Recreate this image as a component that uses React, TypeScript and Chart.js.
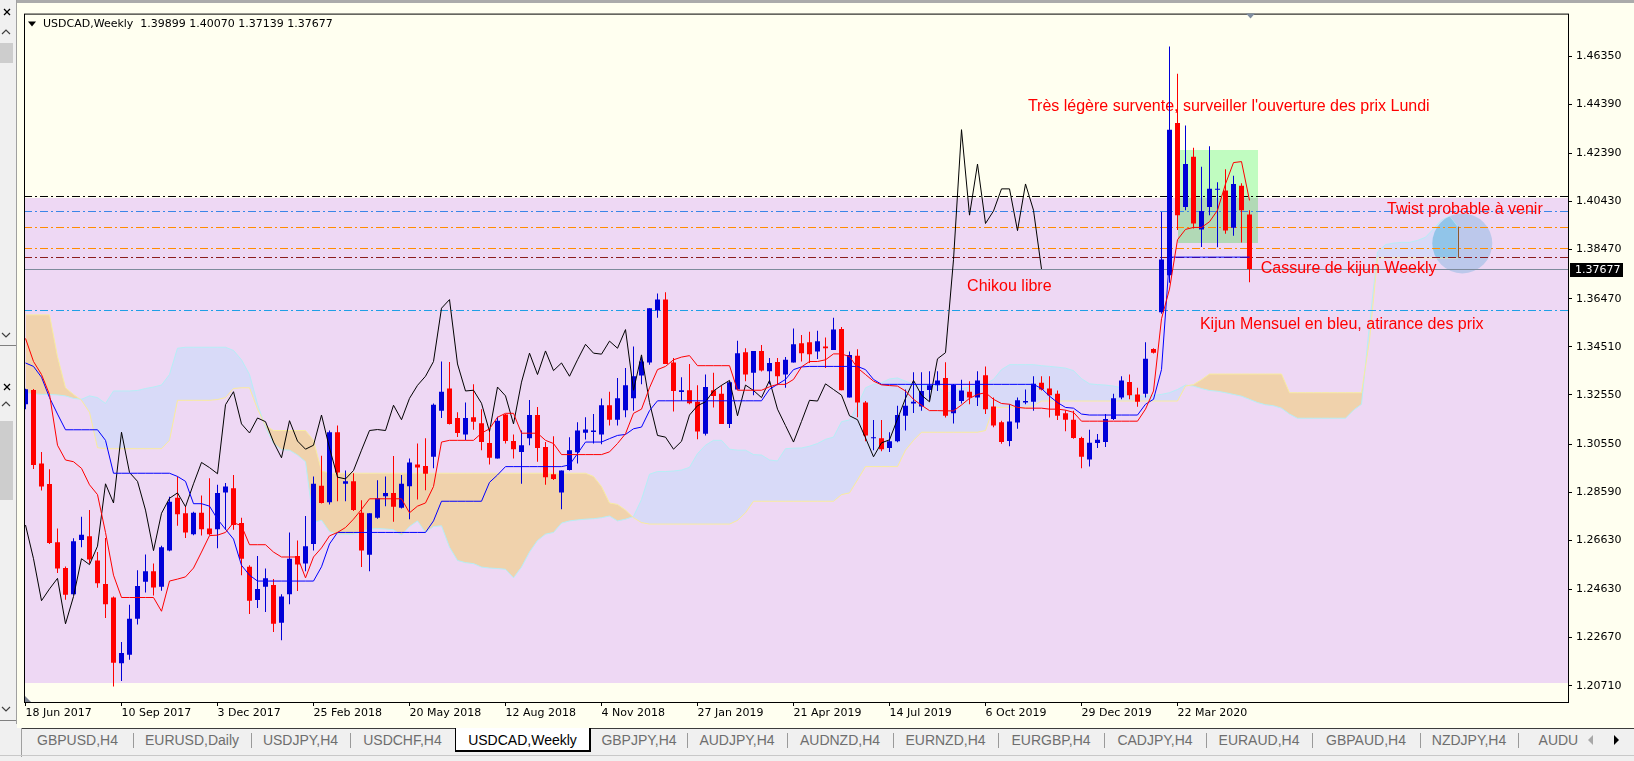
import React, { useEffect, useRef } from 'react';
import { Chart, registerables } from 'chart.js';

Chart.register(...registerables);

// ---- weekly USDCAD, 18 Jun 2017 .. 24 May 2020 (154 bars) ----
const dateLabels = [
  '18 Jun 2017', '10 Sep 2017', '3 Dec 2017', '25 Feb 2018', '20 May 2018', '12 Aug 2018', '4 Nov 2018',
  '27 Jan 2019', '21 Apr 2019', '14 Jul 2019', '6 Oct 2019', '29 Dec 2019', '22 Mar 2020',
];
const dateTickIndex = [0, 12, 24, 36, 48, 60, 72, 84, 96, 108, 120, 132, 144];
const priceTicks = [1.4635, 1.4439, 1.4239, 1.4043, 1.3847, 1.3647, 1.3451, 1.3255, 1.3055, 1.2859, 1.2663, 1.2463, 1.2267, 1.2071];

const opens = [
  1.3217, 1.3275, 1.2976, 1.2892, 1.2655, 1.2550, 1.2443, 1.2664, 1.2679, 1.2581,
  1.2485, 1.2430, 1.2162, 1.2197, 1.2343, 1.2494, 1.2537, 1.2474, 1.2621, 1.2836,
  1.2773, 1.2688, 1.2775, 1.2711, 1.2708, 1.2858, 1.2875, 1.2733, 1.2555, 1.2420,
  1.2474, 1.2481, 1.2327, 1.2443, 1.2599, 1.2568, 1.2648, 1.2885, 1.2818, 1.3103,
  1.2893, 1.2903, 1.2775, 1.2604, 1.2755, 1.2842, 1.2856, 1.2796, 1.2883, 1.2972,
  1.2966, 1.3003, 1.3190, 1.3281, 1.3161, 1.3094, 1.3164, 1.3140, 1.3059, 1.2996,
  1.3175, 1.3067, 1.3023, 1.3079, 1.3173, 1.3043, 1.2932, 1.2858, 1.2949, 1.3021,
  1.3101, 1.3104, 1.3094, 1.3213, 1.3154, 1.3193, 1.3241, 1.3334, 1.3387, 1.3599,
  1.3643, 1.3387, 1.3267, 1.3274, 1.3227, 1.3097, 1.3274, 1.3260, 1.3137, 1.3277,
  1.3429, 1.3345, 1.3434, 1.3351, 1.3389, 1.3338, 1.3387, 1.3465, 1.3469, 1.3432,
  1.3452, 1.3438, 1.3523, 1.3244, 1.3414, 1.3224, 1.3079, 1.3079, 1.3039, 1.3066,
  1.3170, 1.3220, 1.3208, 1.3275, 1.3294, 1.3324, 1.3180, 1.3230, 1.3268, 1.3244,
  1.3335, 1.3208, 1.3144, 1.3067, 1.3143, 1.3224, 1.3227, 1.3304, 1.3281, 1.3260,
  1.3180, 1.3154, 1.3080, 1.2992, 1.3059, 1.3063, 1.3157, 1.3244, 1.3308, 1.3257,
  1.3260, 1.3442, 1.3592, 1.3742, 1.4362, 1.4020, 1.4225, 1.3929, 1.4020, 1.4090,
  1.4087, 1.3936, 1.4107, 1.39899,
];
const highs = [
  1.3280, 1.3279, 1.3023, 1.2952, 1.2711, 1.2556, 1.2671, 1.2759, 1.2786, 1.2615,
  1.2672, 1.2434, 1.2249, 1.2400, 1.2541, 1.2605, 1.2568, 1.2641, 1.2840, 1.2923,
  1.2802, 1.2779, 1.2845, 1.2916, 1.2889, 1.2896, 1.2929, 1.2755, 1.2561, 1.2599,
  1.2548, 1.2505, 1.2443, 1.2695, 1.2662, 1.2762, 1.2923, 1.3007, 1.3110, 1.3130,
  1.2947, 1.2936, 1.2826, 1.2773, 1.2907, 1.2923, 1.3006, 1.2929, 1.2996, 1.3057,
  1.3079, 1.3220, 1.3391, 1.3389, 1.3184, 1.3224, 1.3298, 1.3197, 1.3117, 1.3166,
  1.3177, 1.3094, 1.3110, 1.3234, 1.3206, 1.3063, 1.3087, 1.2947, 1.3083, 1.3144,
  1.3164, 1.3177, 1.3240, 1.3268, 1.3324, 1.3365, 1.3452, 1.3409, 1.3608, 1.3668,
  1.3673, 1.3405, 1.3327, 1.3381, 1.3294, 1.3338, 1.3345, 1.3294, 1.3311, 1.3476,
  1.3445, 1.3434, 1.3458, 1.3405, 1.3405, 1.3409, 1.3525, 1.3499, 1.3512, 1.3516,
  1.3489, 1.3569, 1.3532, 1.3432, 1.3441, 1.3230, 1.3153, 1.3153, 1.3103, 1.3211,
  1.3277, 1.3347, 1.3347, 1.3351, 1.3351, 1.3388, 1.3299, 1.3317, 1.3311, 1.3351,
  1.3371, 1.3244, 1.3150, 1.3217, 1.3244, 1.3277, 1.3331, 1.3331, 1.3331, 1.3273,
  1.3193, 1.3190, 1.3085, 1.3113, 1.3096, 1.3177, 1.3260, 1.3331, 1.3338, 1.3284,
  1.3469, 1.3445, 1.4000, 1.4674, 1.4563, 1.4352, 1.4261, 1.4184, 1.4268, 1.4121,
  1.4174, 1.4147, 1.4117, 1.40070,
];
const lows = [
  1.3197, 1.2953, 1.2866, 1.2648, 1.2530, 1.2421, 1.2441, 1.2635, 1.2568, 1.2470,
  1.2347, 1.2068, 1.2090, 1.2177, 1.2320, 1.2450, 1.2438, 1.2458, 1.2618, 1.2722,
  1.2672, 1.2684, 1.2682, 1.2684, 1.2631, 1.2706, 1.2706, 1.2521, 1.2363, 1.2387,
  1.2371, 1.2290, 1.2256, 1.2403, 1.2457, 1.2537, 1.2621, 1.2813, 1.2809, 1.2822,
  1.2822, 1.2782, 1.2554, 1.2537, 1.2751, 1.2802, 1.2738, 1.2792, 1.2749, 1.2829,
  1.2867, 1.2956, 1.3161, 1.3134, 1.3084, 1.3070, 1.3113, 1.3030, 1.2972, 1.2996,
  1.3057, 1.2996, 1.2893, 1.3050, 1.2983, 1.2889, 1.2909, 1.2789, 1.2947, 1.2976,
  1.3073, 1.3057, 1.3054, 1.3130, 1.3130, 1.3164, 1.3190, 1.3298, 1.3378, 1.3569,
  1.3381, 1.3187, 1.3231, 1.3217, 1.3074, 1.3090, 1.3204, 1.3137, 1.3120, 1.3277,
  1.3311, 1.3254, 1.3350, 1.3298, 1.3294, 1.3284, 1.3387, 1.3391, 1.3385, 1.3401,
  1.3365, 1.3438, 1.3274, 1.3244, 1.3164, 1.3066, 1.3030, 1.3026, 1.3023, 1.3062,
  1.3110, 1.3181, 1.3190, 1.3231, 1.3271, 1.3163, 1.3139, 1.3220, 1.3217, 1.3210,
  1.3177, 1.3123, 1.3056, 1.3046, 1.3117, 1.3217, 1.3190, 1.3273, 1.3163, 1.3153,
  1.3107, 1.3076, 1.2956, 1.2963, 1.3039, 1.3043, 1.3153, 1.3237, 1.3237, 1.3207,
  1.3244, 1.3424, 1.3585, 1.3712, 1.3927, 1.4007, 1.3933, 1.3857, 1.3987, 1.3856,
  1.3911, 1.3903, 1.3876, 1.37139,
];
const closes = [
  1.3278, 1.2970, 1.2882, 1.2652, 1.2548, 1.2441, 1.2659, 1.2686, 1.2585, 1.2488,
  1.2403, 1.2164, 1.2204, 1.2344, 1.2477, 1.2537, 1.2471, 1.2635, 1.2820, 1.2769,
  1.2695, 1.2775, 1.2708, 1.2688, 1.2856, 1.2882, 1.2725, 1.2588, 1.2417, 1.2465,
  1.2508, 1.2323, 1.2434, 1.2588, 1.2564, 1.2639, 1.2893, 1.2815, 1.3103, 1.2939,
  1.2903, 1.2786, 1.2621, 1.2773, 1.2834, 1.2856, 1.2800, 1.2893, 1.2980, 1.2959,
  1.2934, 1.3215, 1.3268, 1.3137, 1.3100, 1.3161, 1.3146, 1.3063, 1.2999, 1.3150,
  1.3067, 1.3034, 1.3050, 1.3173, 1.3039, 1.2920, 1.2913, 1.2947, 1.3030, 1.3110,
  1.3114, 1.3110, 1.3213, 1.3154, 1.3241, 1.3294, 1.3331, 1.3391, 1.3608, 1.3643,
  1.3381, 1.3271, 1.3274, 1.3221, 1.3106, 1.3287, 1.3251, 1.3137, 1.3307, 1.3425,
  1.3338, 1.3434, 1.3354, 1.3385, 1.3331, 1.3398, 1.3461, 1.3425, 1.3421, 1.3474,
  1.3445, 1.3521, 1.3274, 1.3418, 1.3224, 1.3090, 1.3083, 1.3034, 1.3066, 1.3173,
  1.3211, 1.3227, 1.3271, 1.3294, 1.3314, 1.3170, 1.3295, 1.3273, 1.3244, 1.3314,
  1.3197, 1.3130, 1.3063, 1.3147, 1.3233, 1.3230, 1.3300, 1.3277, 1.3254, 1.3170,
  1.3154, 1.3080, 1.3003, 1.3060, 1.3072, 1.3157, 1.3241, 1.3314, 1.3254, 1.3227,
  1.3402, 1.3427, 1.3806, 1.4335, 1.3987, 1.4195, 1.3953, 1.4004, 1.4094, 1.4094,
  1.3924, 1.4114, 1.4007, 1.37677,
];

// Ichimoku lines
const tenkan = [
  1.3485, 1.3391, 1.3338, 1.3257, 1.3050, 1.2990, 1.2983, 1.2956, 1.2889, 1.2849,
  1.2695, 1.2521, 1.2430, 1.2430, 1.2430, 1.2430, 1.2430, 1.2374, 1.2497, 1.2505,
  1.2514, 1.2550, 1.2615, 1.2682, 1.2684, 1.2695, 1.2735, 1.2722, 1.2645, 1.2645,
  1.2645, 1.2615, 1.2595, 1.2595, 1.2595, 1.2510, 1.2595, 1.2632, 1.2681, 1.2695,
  1.2715, 1.2749, 1.2789, 1.2832, 1.2832, 1.2832, 1.2832, 1.2832, 1.2775, 1.2802,
  1.2815, 1.2882, 1.3063, 1.3070, 1.3070, 1.3070, 1.3070, 1.3099, 1.3117, 1.3164,
  1.3180, 1.3180, 1.3099, 1.3099, 1.3099, 1.3070, 1.3057, 1.3012, 1.3012, 1.3012,
  1.3012, 1.3012, 1.3012, 1.3023, 1.3057, 1.3097, 1.3180, 1.3197, 1.3284, 1.3358,
  1.3371, 1.3398, 1.3409, 1.3415, 1.3374, 1.3374, 1.3374, 1.3374, 1.3374, 1.3274,
  1.3274, 1.3274, 1.3274, 1.3288, 1.3298, 1.3298, 1.3318, 1.3369, 1.3391, 1.3391,
  1.3398, 1.3422, 1.3422, 1.3411, 1.3365, 1.3338, 1.3311, 1.3296, 1.3293, 1.3291,
  1.3271, 1.3237, 1.3213, 1.3191, 1.3191, 1.3190, 1.3190, 1.3214, 1.3241, 1.3257,
  1.3264, 1.3237, 1.3220, 1.3217, 1.3204, 1.3201, 1.3201, 1.3201, 1.3197, 1.3197,
  1.3193, 1.3184, 1.3148, 1.3148, 1.3148, 1.3148, 1.3148, 1.3148, 1.3148, 1.3148,
  1.3197, 1.3271, 1.3565, 1.3686, 1.3887, 1.3929, 1.3937, 1.3937, 1.3960, 1.4007,
  1.4114, 1.4201, 1.4205, 1.4047,
];
const kijun = [
  1.3385, 1.3371, 1.3327, 1.3244, 1.3177, 1.3113, 1.3113, 1.3113, 1.3113, 1.3113,
  1.3070, 1.2936, 1.2936, 1.2936, 1.2936, 1.2936, 1.2936, 1.2936, 1.2936, 1.2923,
  1.2903, 1.2812, 1.2812, 1.2802, 1.2749, 1.2708, 1.2668, 1.2561, 1.2521, 1.2497,
  1.2497, 1.2497, 1.2497, 1.2497, 1.2497, 1.2497, 1.2497, 1.2555, 1.2648, 1.2695,
  1.2695, 1.2695, 1.2695, 1.2695, 1.2695, 1.2695, 1.2695, 1.2695, 1.2695, 1.2695,
  1.2695, 1.2742, 1.2822, 1.2822, 1.2822, 1.2822, 1.2822, 1.2822, 1.2899, 1.2929,
  1.2963, 1.2963, 1.2963, 1.2963, 1.2963, 1.2963, 1.2963, 1.2963, 1.2970, 1.3016,
  1.3063, 1.3063, 1.3063, 1.3077, 1.3090, 1.3094, 1.3117, 1.3124, 1.3191, 1.3231,
  1.3231, 1.3231, 1.3231, 1.3231, 1.3231, 1.3231, 1.3231, 1.3231, 1.3231, 1.3231,
  1.3231, 1.3231, 1.3231, 1.3278, 1.3298, 1.3318, 1.3358, 1.3369, 1.3371, 1.3371,
  1.3371, 1.3371, 1.3371, 1.3371, 1.3371, 1.3358, 1.3318, 1.3298, 1.3298, 1.3298,
  1.3298, 1.3298, 1.3298, 1.3298, 1.3298, 1.3298, 1.3298, 1.3298, 1.3298, 1.3298,
  1.3298, 1.3298, 1.3298, 1.3298, 1.3298, 1.3298, 1.3298, 1.3281, 1.3250, 1.3224,
  1.3204, 1.3201, 1.3177, 1.3173, 1.3173, 1.3173, 1.3173, 1.3173, 1.3173, 1.3173,
  1.3217, 1.3237, 1.3358, 1.3816, 1.3816, 1.3816, 1.3816, 1.3816, 1.3816, 1.3816,
  1.3816, 1.3816, 1.3816, 1.3816,
];
// cloud edges, 180 points (26 weeks ahead of the last bar)
const senkouA = [
  1.3264, 1.3260, 1.3257, 1.3257, 1.3255, 1.3251, 1.3241, 1.3237, 1.3251, 1.3244,
  1.3220, 1.3271, 1.3271, 1.3271, 1.3273, 1.3281, 1.3287, 1.3295, 1.3338, 1.3445,
  1.3449, 1.3449, 1.3449, 1.3449, 1.3449, 1.3449, 1.3436, 1.3398, 1.3338, 1.3217,
  1.3123, 1.3057, 1.3032, 1.3030, 1.3010, 1.2983, 1.2735, 1.2745, 1.2698, 1.2688,
  1.2688, 1.2688, 1.2698, 1.2709, 1.2711, 1.2709, 1.2706, 1.2684, 1.2719, 1.2742,
  1.2695, 1.2719, 1.2722, 1.2635, 1.2581, 1.2572, 1.2568, 1.2554, 1.2550, 1.2548,
  1.2545, 1.2510, 1.2554, 1.2615, 1.2662, 1.2688, 1.2695, 1.2733, 1.2742, 1.2746,
  1.2749, 1.2751, 1.2755, 1.2762, 1.2742, 1.2749, 1.2760, 1.2829, 1.2932, 1.2943,
  1.2943, 1.2945, 1.2949, 1.2960, 1.3016, 1.3050, 1.3070, 1.3070, 1.3034, 1.3030,
  1.3030, 1.3012, 1.3010, 1.2990, 1.2986, 1.3036, 1.3038, 1.3039, 1.3046, 1.3057,
  1.3074, 1.3083, 1.3146, 1.3153, 1.3211, 1.3284, 1.3298, 1.3304, 1.3320, 1.3324,
  1.3311, 1.3298, 1.3294, 1.3294, 1.3291, 1.3260, 1.3270, 1.3281, 1.3287, 1.3295,
  1.3300, 1.3318, 1.3358, 1.3378, 1.3378, 1.3378, 1.3378, 1.3374, 1.3371, 1.3368,
  1.3364, 1.3354, 1.3321, 1.3300, 1.3297, 1.3295, 1.3291, 1.3284, 1.3257, 1.3250,
  1.3250, 1.3253, 1.3257, 1.3264, 1.3277, 1.3295, 1.3291, 1.3281, 1.3273, 1.3270,
  1.3264, 1.3257, 1.3250, 1.3237, 1.3224, 1.3215, 1.3211, 1.3201, 1.3177, 1.3160,
  1.3160, 1.3160, 1.3160, 1.3160, 1.3160, 1.3160, 1.3193, 1.3217, 1.3540, 1.3837,
  1.3867, 1.3873, 1.3876, 1.3876, 1.3884, 1.3897, 1.3931, 1.3967, 1.3983, 1.3940,
];
const senkouB = [
  1.3581, 1.3581, 1.3581, 1.3581, 1.3411, 1.3284, 1.3257, 1.3233, 1.3184, 1.3040,
  1.3036, 1.3036, 1.3036, 1.3036, 1.3036, 1.3036, 1.3036, 1.3036, 1.3070, 1.3233,
  1.3233, 1.3233, 1.3233, 1.3233, 1.3236, 1.3244, 1.3281, 1.3284, 1.3284, 1.3197,
  1.3130, 1.3110, 1.3110, 1.3110, 1.3110, 1.3110, 1.3070, 1.2945, 1.2936, 1.2936,
  1.2936, 1.2936, 1.2936, 1.2936, 1.2936, 1.2936, 1.2936, 1.2936, 1.2936, 1.2936,
  1.2936, 1.2936, 1.2936, 1.2936, 1.2936, 1.2936, 1.2936, 1.2936, 1.2936, 1.2936,
  1.2936, 1.2936, 1.2936, 1.2936, 1.2936, 1.2936, 1.2936, 1.2936, 1.2936, 1.2936,
  1.2936, 1.2923, 1.2882, 1.2815, 1.2809, 1.2786, 1.2755, 1.2735, 1.2729, 1.2729,
  1.2729, 1.2729, 1.2729, 1.2729, 1.2729, 1.2729, 1.2729, 1.2729, 1.2729, 1.2744,
  1.2775, 1.2822, 1.2822, 1.2822, 1.2822, 1.2822, 1.2822, 1.2822, 1.2822, 1.2822,
  1.2822, 1.2822, 1.2849, 1.2856, 1.2909, 1.2963, 1.2963, 1.2963, 1.2963, 1.2963,
  1.3030, 1.3070, 1.3103, 1.3103, 1.3103, 1.3103, 1.3103, 1.3103, 1.3103, 1.3103,
  1.3110, 1.3204, 1.3204, 1.3204, 1.3204, 1.3204, 1.3210, 1.3230, 1.3230, 1.3230,
  1.3230, 1.3230, 1.3230, 1.3230, 1.3230, 1.3230, 1.3230, 1.3230, 1.3230, 1.3230,
  1.3230, 1.3230, 1.3230, 1.3230, 1.3230, 1.3291, 1.3297, 1.3317, 1.3340, 1.3340,
  1.3340, 1.3340, 1.3340, 1.3340, 1.3340, 1.3340, 1.3340, 1.3340, 1.3264, 1.3264,
  1.3264, 1.3264, 1.3264, 1.3264, 1.3264, 1.3264, 1.3264, 1.3264, 1.3478, 1.3813,
  1.3813, 1.3813, 1.3813, 1.3813, 1.3813, 1.3813, 1.3813, 1.3813, 1.3813, 1.3813,
];

// drawn objects (prices / bar indexes)
const levelPrices = [1.4065, 1.4005, 1.3937, 1.3853, 1.3816, 1.37677, 1.36];
const levelColors = ['#000000', '#3a86e8', '#ff8c00', '#ff8c00', '#8b1c1c', '#7d8a9c', '#1e9fe6'];
const levelDashed = [true, true, true, true, true, false, true];
const zoneMain = { top: 1.4057, bottom: 1.2082 };
const zoneBox = { from: 144, to: 154, top: 1.4253, bottom: 1.3872 };
const twist = { at: 179.6, price: 1.3872, radius: 30 };
const notes = [
  { text: "Très légère survente, surveiller l'ouverture des prix Lundi", at: 125.3, price: 1.443 },
  { text: 'Twist probable à venir', at: 170.2, price: 1.4009 },
  { text: 'Cassure de kijun Weekly', at: 154.4, price: 1.3768 },
  { text: 'Chikou libre', at: 117.7, price: 1.3695 },
  { text: 'Kijun Mensuel en bleu, atirance des prix', at: 146.8, price: 1.3543 },
];

const tabNames = [
  'GBPUSD,H4', 'EURUSD,Daily', 'USDJPY,H4', 'USDCHF,H4', 'USDCAD,Weekly', 'GBPJPY,H4', 'AUDJPY,H4',
  'AUDNZD,H4', 'EURNZD,H4', 'EURGBP,H4', 'CADJPY,H4', 'EURAUD,H4', 'GBPAUD,H4', 'NZDJPY,H4', 'AUDUSD,H4',
];
const tabEdges = [22, 133, 251, 350, 455, 591, 687, 787, 893, 998, 1104, 1206, 1312, 1420, 1518, 1640];
const ACTIVE_TAB = 4;

const IVORY = '#fffff0';
const DASH_DOT = [8, 3, 2, 3];
const LABEL_FONT = { family: '"DejaVu Sans", Tahoma, sans-serif', size: 11 };

const candleColors = opens.map((o, i) => (closes[i] >= o ? '#0000d8' : '#ff0000'));

const mtPlugin = {
  id: 'mtObjects',
  beforeDraw(chart: any) {
    const { ctx, width, height } = chart;
    ctx.save();
    ctx.fillStyle = IVORY;
    ctx.fillRect(0, 0, width, height);
    ctx.restore();
  },
  beforeDatasetsDraw(chart: any) {
    const { ctx, chartArea: a, scales } = chart;
    const { x, y } = scales;
    ctx.save();
    ctx.beginPath();
    ctx.rect(a.left, a.top, a.right - a.left, a.bottom - a.top);
    ctx.clip();

    const zy0 = Math.round(y.getPixelForValue(zoneMain.top));
    const zy1 = Math.round(y.getPixelForValue(zoneMain.bottom));
    ctx.fillStyle = '#eed8f4';
    ctx.fillRect(a.left, zy0, a.right - a.left, zy1 - zy0);

    const bx0 = Math.round(x.getPixelForValue(zoneBox.from));
    const bx1 = Math.round(x.getPixelForValue(zoneBox.to));
    const by0 = Math.round(y.getPixelForValue(zoneBox.top));
    const by1 = Math.round(y.getPixelForValue(zoneBox.bottom));
    ctx.fillStyle = '#c0fcc0';
    ctx.fillRect(bx0, by0, bx1 - bx0, by1 - by0);
    const oy0 = Math.max(by0, zy0);
    const oy1 = Math.min(by1, zy1);
    if (oy1 > oy0) {
      ctx.fillStyle = '#b1d9b6';
      ctx.fillRect(bx0, oy0, bx1 - bx0, oy1 - oy0);
    }

    ctx.fillStyle = '#bcc8eb';
    ctx.beginPath();
    ctx.arc(x.getPixelForValue(twist.at), y.getPixelForValue(twist.price), twist.radius, 0, Math.PI * 2);
    ctx.fill();
    ctx.restore();
  },
  afterDatasetDraw(chart: any, args: any) {
    if (args.index !== 1) return;
    const { ctx, chartArea: a, scales } = chart;
    const { x, y } = scales;
    const ptsA = chart.getDatasetMeta(0).data;
    const ptsB = chart.getDatasetMeta(1).data;
    ctx.save();
    ctx.beginPath();
    ctx.rect(a.left, a.top, a.right - a.left, a.bottom - a.top);
    ctx.clip();

    // circle over the cloud
    ctx.save();
    ctx.beginPath();
    ctx.arc(x.getPixelForValue(twist.at), y.getPixelForValue(twist.price), twist.radius, 0, Math.PI * 2);
    ctx.clip();
    ctx.beginPath();
    const start = 150;
    for (let i = start; i < ptsA.length; i++) {
      if (i === start) ctx.moveTo(ptsA[i].x, ptsA[i].y);
      else ctx.lineTo(ptsA[i].x, ptsA[i].y);
    }
    for (let i = ptsB.length - 1; i >= start; i--) ctx.lineTo(ptsB[i].x, ptsB[i].y);
    ctx.closePath();
    ctx.fillStyle = 'rgba(60,170,215,0.45)';
    ctx.fill();
    ctx.restore();

    // last bar of the cloud histogram
    const last = ptsA.length - 1;
    ctx.strokeStyle = '#8b5a2b';
    ctx.lineWidth = 1;
    ctx.beginPath();
    ctx.moveTo(Math.round(ptsA[last].x) + 0.5, ptsA[last].y);
    ctx.lineTo(Math.round(ptsA[last].x) + 0.5, ptsB[last].y);
    ctx.stroke();

    // horizontal levels
    levelPrices.forEach((p, k) => {
      const py = Math.round(y.getPixelForValue(p)) + 0.5;
      ctx.strokeStyle = levelColors[k];
      ctx.setLineDash(levelDashed[k] ? DASH_DOT : []);
      ctx.beginPath();
      ctx.moveTo(a.left, py);
      ctx.lineTo(a.right, py);
      ctx.stroke();
    });
    ctx.setLineDash([]);

    // text labels
    ctx.fillStyle = '#ff0000';
    ctx.font = '16px "Liberation Sans", Arial, sans-serif';
    ctx.textAlign = 'left';
    ctx.textBaseline = 'middle';
    notes.forEach((n) => ctx.fillText(n.text, x.getPixelForValue(n.at), y.getPixelForValue(n.price)));
    ctx.restore();
  },
  afterDraw(chart: any) {
    const { ctx, chartArea: a, scales } = chart;
    const { y } = scales;
    ctx.save();
    ctx.strokeStyle = '#000';
    ctx.lineWidth = 1;
    ctx.strokeRect(a.left + 0.5, a.top + 0.5, a.right - a.left, a.bottom - a.top);

    // header
    ctx.fillStyle = '#000';
    ctx.beginPath();
    ctx.moveTo(a.left + 4, a.top + 8);
    ctx.lineTo(a.left + 12, a.top + 8);
    ctx.lineTo(a.left + 8, a.top + 13);
    ctx.closePath();
    ctx.fill();
    const n = closes.length - 1;
    const head = `USDCAD,Weekly  ${opens[n].toFixed(5)} ${highs[n].toFixed(5)} ${lows[n].toFixed(5)} ${closes[n].toFixed(5)}`;
    ctx.font = '11px "DejaVu Sans", Tahoma, sans-serif';
    ctx.textAlign = 'left';
    ctx.textBaseline = 'middle';
    ctx.fillText(head, a.left + 19, a.top + 11);

    // chart shift marker and corner marker
    const sx = Math.round(chart.scales.x.getPixelForValue(n));
    ctx.fillStyle = '#7f8da0';
    ctx.beginPath();
    ctx.moveTo(sx - 4, a.top);
    ctx.lineTo(sx + 5, a.top);
    ctx.lineTo(sx + 0.5, a.top + 5);
    ctx.closePath();
    ctx.fill();
    ctx.fillStyle = '#7a8090';
    ctx.beginPath();
    ctx.moveTo(a.left + 1, a.bottom - 6);
    ctx.lineTo(a.left + 1, a.bottom);
    ctx.lineTo(a.left + 7, a.bottom);
    ctx.closePath();
    ctx.fill();

    // current price tag
    const cy = Math.round(y.getPixelForValue(closes[n]));
    ctx.fillStyle = '#000';
    ctx.fillRect(a.right + 2, cy - 6, 53, 14);
    ctx.fillStyle = '#fff';
    ctx.fillText(closes[n].toFixed(5), a.right + 7, cy + 1);
    ctx.restore();
  },
};

function lineSet(label: string, values: number[], color: string, order: number, offset = 0) {
  return {
    type: 'line',
    label,
    data: values.map((v, i) => ({ x: i + offset, y: v })),
    borderColor: color,
    borderWidth: 1,
    pointRadius: 0,
    tension: 0,
    fill: false,
    order,
    clip: 0,
  };
}

export default function App() {
  const canvasRef = useRef<HTMLCanvasElement>(null);

  useEffect(() => {
    document.body.style.margin = '0';
    if (!canvasRef.current) return;

    const chart = new Chart(canvasRef.current, {
      type: 'bar',
      data: {
        datasets: [
          {
            ...lineSet('Senkou A', senkouA, '#b6eef6', 20),
            fill: { target: 1, above: '#d8daf8', below: '#f0d2ac' },
          },
          lineSet('Senkou B', senkouB, '#f8eca0', 19),
          {
            type: 'bar',
            label: 'wicks',
            data: opens.map((_, i) => ({ x: i, y: [lows[i], highs[i]] })),
            backgroundColor: candleColors,
            barThickness: 1,
            stack: 'candle',
            borderWidth: 0,
            inflateAmount: 0,
            order: 10,
            clip: 0,
          },
          {
            type: 'bar',
            label: 'bodies',
            data: opens.map((o, i) => ({ x: i, y: [o, closes[i]] })),
            backgroundColor: candleColors,
            barThickness: 5,
            minBarLength: 1,
            stack: 'candle',
            borderWidth: 0,
            inflateAmount: 0,
            order: 9,
            clip: 0,
          },
          lineSet('Chikou', closes.slice(26), '#000000', 3),
          lineSet('Kijun', kijun, '#0000ff', 2),
          lineSet('Tenkan', tenkan, '#ff0000', 1),
        ] as any,
      },
      options: {
        animation: false,
        responsive: false,
        events: [],
        layout: { padding: { left: 7, top: 1, right: 0, bottom: 0 } },
        plugins: { legend: { display: false }, tooltip: { enabled: false } },
        scales: {
          x: {
            type: 'linear',
            position: 'bottom',
            min: -0.1875,
            max: 192.8125,
            offset: false,
            afterBuildTicks: (s: any) => { s.ticks = dateTickIndex.map((v) => ({ value: v })); },
            afterFit: (s: any) => { s.height = 26; },
            grid: { offset: false, drawOnChartArea: false, drawTicks: true, tickLength: 4, color: '#000' },
            border: { display: false },
            ticks: {
              align: 'start',
              padding: 1,
              autoSkip: false,
              maxRotation: 0,
              minRotation: 0,
              color: '#000',
              font: LABEL_FONT,
              callback: (_v: any, idx: number) => dateLabels[idx],
            },
          },
          y: {
            type: 'linear',
            position: 'right',
            min: 1.20045,
            max: 1.48077,
            stacked: false,
            afterBuildTicks: (s: any) => { s.ticks = priceTicks.map((v) => ({ value: v })); },
            afterFit: (s: any) => { s.width = 66; },
            grid: { drawOnChartArea: false, drawTicks: true, tickLength: 4, color: '#000' },
            border: { display: false },
            ticks: {
              padding: 4,
              autoSkip: false,
              color: '#000',
              font: LABEL_FONT,
              callback: (v: any) => Number(v).toFixed(5),
            },
          },
        },
      } as any,
      plugins: [mtPlugin as any],
    });

    return () => chart.destroy();
  }, []);

  const chevron = (cy: number, up: boolean) =>
    up ? `2,${cy + 2} 6,${cy - 2} 10,${cy + 2}` : `2,${cy - 2} 6,${cy + 2} 10,${cy - 2}`;

  return (
    <div style={{ position: 'relative', width: 1634, height: 761, background: '#f0f0f0', overflow: 'hidden' }}>
      <div style={{ position: 'absolute', left: 17, top: 0, width: 1617, height: 3, background: '#ababab' }} />
      <div style={{ position: 'absolute', left: 17, top: 3, width: 1617, height: 725 }}>
        <canvas ref={canvasRef} width={1617} height={725} style={{ display: 'block' }} aria-label="USDCAD Weekly" role="img" />
      </div>

      {/* docked panel on the left */}
      <svg width={17} height={761} style={{ position: 'absolute', left: 0, top: 0 }}>
        <rect x={0} y={0} width={16} height={761} fill="#f0f0f0" />
        <line x1={16.5} y1={0} x2={16.5} y2={724} stroke="#a0a0a0" />
        <g stroke="#000" strokeWidth={1.3}>
          <line x1={4} y1={9} x2={10} y2={15} />
          <line x1={10} y1={9} x2={4} y2={15} />
          <line x1={4} y1={384} x2={10} y2={390} />
          <line x1={10} y1={384} x2={4} y2={390} />
        </g>
        <g stroke="#404040" strokeWidth={1.2} fill="none">
          <polyline points={chevron(32, true)} />
          <polyline points={chevron(335, false)} />
          <polyline points={chevron(404, true)} />
          <polyline points={chevron(709, false)} />
        </g>
        <rect x={0} y={43} width={13} height={20} fill="#cdcdcd" />
        <rect x={0} y={421} width={13} height={79} fill="#cdcdcd" />
        <line x1={0} y1={345.5} x2={16} y2={345.5} stroke="#808080" />
        <line x1={0} y1={720.5} x2={16} y2={720.5} stroke="#808080" />
      </svg>

      {/* tab bar */}
      <div style={{ position: 'absolute', left: 21, top: 728, width: 1613, height: 1, background: '#3c3c3c' }} />
      <div style={{ position: 'absolute', left: 21, top: 728, width: 1, height: 29, background: '#a0a0a0' }} />
      {tabNames.map((name, k) => {
        const left = tabEdges[k];
        const width = tabEdges[k + 1] - left;
        const active = k === ACTIVE_TAB;
        return (
          <div
            key={name}
            style={{
              position: 'absolute',
              left,
              top: 728,
              width,
              height: 24,
              boxSizing: 'border-box',
              background: active ? '#ffffff' : 'transparent',
              borderLeft: active ? '1px solid #000' : 'none',
              borderRight: active ? '2px solid #000' : 'none',
              borderBottom: active ? '2px solid #000' : 'none',
              fontFamily: '"Liberation Sans", Arial, sans-serif',
              fontSize: 14,
              lineHeight: '24px',
              color: active ? '#000' : '#6e6e6e',
              textAlign: 'center',
              whiteSpace: 'nowrap',
              overflow: 'hidden',
            }}
          >
            {name}
          </div>
        );
      })}
      {tabEdges.slice(1, -1).map((edge, k) =>
        k === ACTIVE_TAB - 1 || k === ACTIVE_TAB ? null : (
          <div key={edge} style={{ position: 'absolute', left: edge, top: 733, width: 1, height: 15, background: '#9a9a9a' }} />
        )
      )}
      <svg width={56} height={24} style={{ position: 'absolute', left: 1578, top: 729, background: '#f0f0f0' }}>
        <polygon points="10,11 15,6 15,16" fill="#a8a8a8" />
        <polygon points="36,6 41,11 36,16" fill="#000" />
      </svg>
      <div style={{ position: 'absolute', left: 0, top: 755, width: 1634, height: 1, background: '#c8c8c8' }} />
    </div>
  );
}
